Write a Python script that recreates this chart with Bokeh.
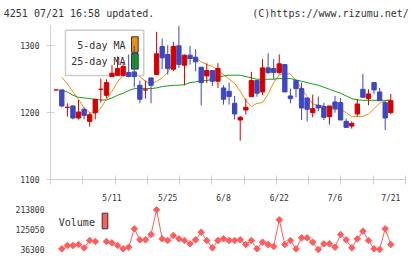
import math
from bokeh.plotting import figure
from bokeh.layouts import column
from bokeh.models import ColumnDataSource, Range1d, FixedTicker
from bokeh.embed import file_html
from bokeh.resources import INLINE
from bokeh.core.properties import value

# ---------------- data ----------------
dates = ["4/21", "4/22", "4/23", "4/24", "4/27", "4/28", "4/30", "5/1", "5/7", "5/8",
         "5/11", "5/12", "5/13", "5/14", "5/15", "5/18", "5/19", "5/20", "5/21", "5/22",
         "5/25", "5/26", "5/27", "5/28", "5/29", "6/1", "6/2", "6/3", "6/4", "6/5",
         "6/8", "6/9", "6/10", "6/11", "6/12", "6/15", "6/16", "6/17", "6/18", "6/19",
         "6/22", "6/23", "6/24", "6/25", "6/26", "6/29", "6/30", "7/1", "7/2", "7/3",
         "7/6", "7/7", "7/8", "7/9", "7/10", "7/13", "7/14", "7/15", "7/16", "7/17",
         "7/21"]

opens = [1234, 1234, 1208, 1210, 1192, 1205, 1187, 1200, 1235, 1226,
         1254, 1256, 1256, 1260, 1261, 1241, 1234, 1252, 1257, 1299,
         1287, 1265, 1300, 1271, 1286, 1283, 1268, 1255, 1263, 1247,
         1237, 1232, 1214, 1189, 1204, 1224, 1248, 1231, 1267, 1266,
         1260, 1272, 1225, 1248, 1236, 1222, 1200, 1211, 1209, 1194,
         1216, 1215, 1187, 1180, 1198, 1235, 1221, 1245, 1231, 1215,
         1200]
highs = [1234, 1234, 1214, 1211, 1219, 1208, 1200, 1220, 1251, 1250,
         1271, 1284, 1275, 1287, 1300, 1248, 1248, 1252, 1321, 1311,
         1301, 1306, 1330, 1287, 1300, 1295, 1268, 1274, 1263, 1274,
         1241, 1245, 1225, 1195, 1221, 1261, 1248, 1280, 1289, 1280,
         1287, 1272, 1236, 1248, 1245, 1222, 1227, 1224, 1215, 1210,
         1225, 1222, 1191, 1187, 1220, 1258, 1235, 1245, 1237, 1218,
         1228]
lows = [1234, 1208, 1194, 1190, 1190, 1190, 1179, 1190, 1215, 1222,
        1253, 1255, 1254, 1253, 1238, 1214, 1221, 1214, 1257, 1265,
        1257, 1262, 1267, 1241, 1272, 1262, 1211, 1244, 1240, 1237,
        1212, 1212, 1190, 1158, 1197, 1224, 1224, 1226, 1258, 1250,
        1258, 1231, 1214, 1223, 1189, 1187, 1193, 1202, 1189, 1182,
        1200, 1189, 1177, 1176, 1194, 1223, 1211, 1228, 1218, 1174,
        1198]
closes = [1234, 1210, 1208, 1192, 1201, 1196, 1197, 1220, 1235, 1245,
          1259, 1266, 1269, 1254, 1254, 1220, 1234, 1241, 1288, 1282,
          1266, 1299, 1272, 1286, 1281, 1276, 1245, 1263, 1247, 1266,
          1220, 1224, 1198, 1193, 1208, 1248, 1229, 1267, 1260, 1260,
          1273, 1231, 1221, 1236, 1207, 1205, 1206, 1207, 1193, 1210,
          1206, 1189, 1178, 1184, 1213, 1223, 1228, 1234, 1218, 1192,
          1218]

ma5 = [None, 1253, 1243, 1231, 1220, 1207, 1200, 1199, 1207, 1220,
       1232, 1246, 1256, 1260, 1260, 1254, 1247, 1243, 1247, 1252,
       1260, 1276, 1281, 1281, 1281, 1282, 1276, 1272, 1269, 1264,
       1257, 1250, 1244, 1232, 1218, 1209, 1214, 1215, 1228, 1245,
       1257, 1258, 1258, 1248, 1236, 1224, 1213, 1211, 1210, 1206,
       1205, 1205, 1200, 1194, 1194, 1194, 1198, 1206, 1214, 1218,
       1219]
ma25 = [None, 1234, 1231, 1226, 1223, 1222, 1221, 1220, 1219, 1219,
        1222, 1226, 1229, 1233, 1236, 1236, 1236, 1236, 1237, 1239,
        1240, 1241, 1241, 1242, 1245, 1246, 1248, 1248, 1250, 1253,
        1255, 1256, 1256, 1256, 1254, 1252, 1250, 1250, 1250, 1250,
        1251, 1251, 1251, 1249, 1247, 1245, 1243, 1241, 1238, 1235,
        1232, 1229, 1225, 1221, 1219, 1218.5, 1218.5, 1218.5, 1218.5, 1218.5,
        1218.5]
volume = [None, 39300, 54200, 54200, 58700, 43800, 76600, 72100, None, 72100,
          66100, 54200, 39300, 46700, 128800, 79600, 79600, 103400, 213800, 84000,
          76600, 99000, 84000, 76600, 61700, 79600, 113900, 76600, 43800, 76600,
          84000, 76600, 76600, 79600, 58700, 76600, 39300, 69100, 58700, 49700,
          169000, 58700, 76600, 39300, 88500, 88500, 69100, 36300, 61700, 61700,
          46700, 103400, 79600, 43800, 84000, 118300, 76600, 39300, 36800, 128800,
          58700]

label_dates = ["5/11", "5/25", "6/8", "6/22", "7/6", "7/21"]
price_ticks = [1100, 1200, 1300]
vol_ticks = [36300, 125050, 213800]
vol_tick_labels = ["36300", "125050", "213800"]
header_left = "4251 07/21 16:58 updated."
header_right = "(C)https://www.rizumu.net/"

# ---------------- styles ----------------
UP = "#d40000"
DOWN = "#3f46bf"
MA5_C = "#f08c10"
MA25_C = "#12a012"
VOL_C = "#ff5c5c"
AXIS_C = "#cfcfcf"
TEXT_C = "#333333"
MONO = "DejaVu Sans Mono"

xs = list(range(-1, len(dates) - 1))
nan = float("nan")
colors = [UP if c >= o else DOWN for o, c in zip(opens, closes)]
src = ColumnDataSource(dict(
    x=xs, open=opens, high=highs, low=lows, close=closes,
    top=[max(o, c) for o, c in zip(opens, closes)],
    bottom=[min(o, c) for o, c in zip(opens, closes)],
    color=colors,
    ma5=[nan if v is None else v for v in ma5],
    ma25=[nan if v is None else v for v in ma25],
    vol=[nan if v is None else v for v in volume],
))

# ---------------- header ----------------
h = figure(width=420, height=25, x_range=Range1d(0, 420), y_range=Range1d(25, 0),
           output_backend="svg", toolbar_location=None,
           x_axis_location=None, y_axis_location=None,
           min_border_left=0, min_border_right=0, min_border_top=0, min_border_bottom=0)
h.frame_align = False
h.outline_line_color = None
h.xgrid.visible = False
h.ygrid.visible = False
h.text(x=[3.3], y=[13.3], text=[header_left], text_font=value(MONO),
       text_font_size="10px", text_color=TEXT_C, text_align="left", text_baseline="middle")
h.text(x=[408.3], y=[13.3], text=[header_right], text_font=value(MONO),
       text_font_size="10px", text_color=TEXT_C, text_align="right", text_baseline="middle")

# ---------------- price chart ----------------
X0, X1 = -2.027, 61.64
xr = Range1d(X0, X1)

p = figure(width=420, height=180, x_range=xr, y_range=Range1d(1100, 1330.4),
           output_backend="svg", toolbar_location=None,
           min_border_left=50, min_border_right=15, min_border_top=0, min_border_bottom=21)
p.outline_line_color = None
p.xgrid.visible = False
p.ygrid.visible = False

ya = p.yaxis[0]
ya.ticker = FixedTicker(ticks=price_ticks)
ya.axis_line_color = AXIS_C
ya.major_tick_line_color = AXIS_C
ya.major_tick_in = 4
ya.major_tick_out = 4
ya.minor_tick_line_color = None
ya.major_label_text_font = MONO
ya.major_label_text_font_size = "8px"
ya.major_label_text_color = TEXT_C
ya.major_label_standoff = 7

label_pos = [dates.index(d) - 1 for d in label_dates]
eps = 0.02
divs = [X0 + eps + k * (X1 - X0 - 2 * eps) / 11 for k in range(12)]
xa = p.xaxis[0]
xa.ticker = FixedTicker(ticks=label_pos, minor_ticks=divs)
xa.major_label_overrides = {pos: d for pos, d in zip(label_pos, label_dates)}
xa.axis_line_color = AXIS_C
xa.major_tick_line_color = None
xa.major_tick_in = 0
xa.major_tick_out = 0
xa.minor_tick_line_color = AXIS_C
xa.minor_tick_in = 4
xa.minor_tick_out = 5
xa.major_label_text_font = MONO
xa.major_label_text_font_size = "8px"
xa.major_label_text_color = TEXT_C
xa.major_label_standoff = 9

# moving averages (under the legend box)
p.line("x", "ma5", source=src, color=MA5_C, line_width=1)
p.line("x", "ma25", source=src, color=MA25_C, line_width=1)

# legend box (candles are drawn over it, as in the original)
p.quad(left=[0.66], right=[14.7], top=[1323.2], bottom=[1255.5],
       fill_color="white", line_color="#cccccc", line_width=1.5)
p.text(x=[11.42, 11.42], y=[1300, 1275.8], text=["5-day MA", "25-day MA"],
       text_font=value(MONO), text_font_size="10px", text_color=TEXT_C,
       text_align="right", text_baseline="middle")
p.quad(left=[12.5, 12.5], right=[13.7, 13.7], top=[1313.5, 1288.4], bottom=[1290.3, 1265.2],
       fill_color=[MA5_C, MA25_C], line_color="#333333", line_width=1)

# candles
p.segment(x0="x", y0="low", x1="x", y1="high", source=src, color="color", line_width=1)
p.vbar(x="x", width=0.78, top="top", bottom="bottom", source=src,
       fill_color="color", line_color="color", line_width=1)

# ---------------- volume ----------------
v = figure(width=420, height=54, x_range=xr, y_range=Range1d(18400, 233040),
           output_backend="svg", toolbar_location=None, x_axis_location=None,
           min_border_left=50, min_border_right=15, min_border_top=0, min_border_bottom=6)
v.outline_line_color = None
v.xgrid.visible = False
v.ygrid.visible = False
va = v.yaxis[0]
va.ticker = FixedTicker(ticks=vol_ticks)
va.major_label_overrides = {t: s for t, s in zip(vol_ticks, vol_tick_labels)}
va.axis_line_color = None
va.major_tick_line_color = None
va.minor_tick_line_color = None
va.major_tick_in = 0
va.major_tick_out = 0
va.major_label_text_font = MONO
va.major_label_text_font_size = "8px"
va.major_label_text_color = TEXT_C
va.major_label_standoff = 6

v.text(x=[-0.54], y=[155770], text=["Volume"], text_font=value(MONO),
       text_font_size="10px", text_color=TEXT_C, text_align="left", text_baseline="middle")
v.quad(left=[7.245], right=[8.25], top=[198730], bottom=[128920],
       fill_color=VOL_C, line_color="#333333", line_width=1)

v.line("x", "vol", source=src, color=VOL_C, line_width=1)
v.scatter("x", "vol", source=src, marker="square", angle=math.pi / 4, size=4.6,
          fill_color=VOL_C, line_color=VOL_C)

layout = column(h, p, v, spacing=0)
open("out.html", "w").write(file_html(layout, INLINE))
